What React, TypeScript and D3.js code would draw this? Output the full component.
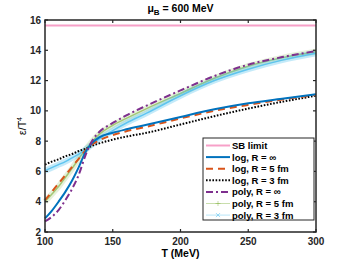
import React, { useRef, useEffect } from 'react';
import * as d3 from 'd3';

// temperatures (MeV)
const temps = [100, 105, 110, 115, 120, 125, 130, 135, 140, 150, 160, 175, 200, 225, 250, 275, 300];

const logInf = [2.9, 3.4, 4.0, 4.65, 5.4, 6.3, 7.3, 7.9, 8.25, 8.55, 8.78, 9.08, 9.6, 10.1, 10.5, 10.8, 11.1];
const log5 = [4.1, 4.65, 5.2, 5.75, 6.3, 6.85, 7.4, 7.8, 8.05, 8.4, 8.65, 8.95, 9.5, 10.0, 10.4, 10.75, 11.05];
const log3 = [6.45, 6.65, 6.8, 7.0, 7.15, 7.35, 7.5, 7.7, 7.85, 8.1, 8.3, 8.55, 9.1, 9.65, 10.15, 10.6, 11.0];
const polyInf = [2.7, 3.0, 3.45, 4.1, 4.85, 5.8, 7.1, 8.05, 8.6, 9.2, 9.7, 10.35, 11.35, 12.3, 13.05, 13.55, 13.95];
const poly5 = [4.0, 4.5, 5.0, 5.6, 6.2, 6.85, 7.45, 8.0, 8.45, 9.05, 9.5, 10.15, 11.15, 12.15, 12.95, 13.5, 13.9];
const poly3 = [6.05, 6.25, 6.45, 6.65, 6.9, 7.15, 7.45, 7.8, 8.15, 8.7, 9.2, 9.85, 11.0, 12.0, 12.75, 13.35, 13.8];
const sbLimit = 15.63;

const xTicks = [100, 150, 200, 250, 300];
const yTicks = [2, 4, 6, 8, 10, 12, 14, 16];

const legendLabels = ['SB limit', 'log, R = \u221e', 'log, R = 5 fm', 'log, R = 3 fm', 'poly, R = \u221e', 'poly, R = 5 fm', 'poly, R = 3 fm'];

const App = () => {
  const Svg = useRef<SVGSVGElement>(null);

  useEffect(() => {
    const width = 349;
    const height = 262;
    const m = { left: 45, right: 33, top: 20, bottom: 30 };
    const font = 'Liberation Sans, Arial, sans-serif';

    const svg = d3.select(Svg.current).attr('width', width).attr('height', height);
    svg.selectAll('*').remove();

    const x = d3.scaleLinear().domain([100, 300]).range([m.left, width - m.right]);
    const y = d3.scaleLinear().domain([2, 16]).range([height - m.bottom, m.top]);

    const styles = [
      { color: '#f7a0c8', width: 2, dash: null, opacity: 1 },
      { color: '#0072BD', width: 2, dash: null, opacity: 1 },
      { color: '#D95319', width: 2, dash: '7,5', opacity: 1 },
      { color: '#000000', width: 2, dash: '1.6,1.6', opacity: 1 },
      { color: '#7E2F8E', width: 2, dash: '7,3,2,3', opacity: 1 },
      { color: '#77AC30', width: 4, dash: null, opacity: 0.3 },
      { color: '#4DBEEE', width: 4, dash: null, opacity: 0.55 },
    ];

    const line = d3
      .line<[number, number]>()
      .x((d) => x(d[0]))
      .y((d) => y(d[1]))
      .curve(d3.curveMonotoneX);

    const series = [
      { data: poly5, s: styles[5] },
      { data: poly3, s: styles[6] },
      { data: log3, s: styles[3] },
      { data: log5, s: styles[2] },
      { data: logInf, s: styles[1] },
      { data: polyInf, s: styles[4] },
    ];

    const plot = svg.append('g');

    // SB limit
    plot
      .append('line')
      .attr('x1', x(100))
      .attr('x2', x(300))
      .attr('y1', y(sbLimit))
      .attr('y2', y(sbLimit))
      .attr('stroke', styles[0].color)
      .attr('stroke-width', 2);

    series.forEach(({ data, s }) => {
      const pts = temps.map((t, i) => [t, data[i]] as [number, number]);
      if (s.opacity < 1) {
        plot
          .append('path')
          .attr('d', line(pts))
          .attr('fill', 'none')
          .attr('stroke', s.color)
          .attr('stroke-opacity', s.opacity * 0.6)
          .attr('stroke-width', s.width + 2);
      }
      plot
        .append('path')
        .attr('d', line(pts))
        .attr('fill', 'none')
        .attr('stroke', s.color)
        .attr('stroke-opacity', s.opacity < 1 ? Math.min(1, s.opacity + 0.3) : 1)
        .attr('stroke-width', s.opacity < 1 ? 1.5 : s.width)
        .attr('stroke-dasharray', s.dash);
    });

    // axes box
    const axisColor = '#262626';
    const x0 = x(100);
    const x1 = x(300);
    const y0 = y(2);
    const y1 = y(16);
    svg
      .append('rect')
      .attr('x', x0)
      .attr('y', y1)
      .attr('width', x1 - x0)
      .attr('height', y0 - y1)
      .attr('fill', 'none')
      .attr('stroke', axisColor)
      .attr('stroke-width', 1.5);

    const ticks = svg.append('g').attr('stroke', axisColor).attr('stroke-width', 1.2);
    xTicks.forEach((t) => {
      ticks.append('line').attr('x1', x(t)).attr('x2', x(t)).attr('y1', y0).attr('y2', y0 - 3);
      ticks.append('line').attr('x1', x(t)).attr('x2', x(t)).attr('y1', y1).attr('y2', y1 + 3);
    });
    yTicks.forEach((t) => {
      ticks.append('line').attr('x1', x0).attr('x2', x0 + 3).attr('y1', y(t)).attr('y2', y(t));
      ticks.append('line').attr('x1', x1).attr('x2', x1 - 3).attr('y1', y(t)).attr('y2', y(t));
    });

    svg
      .append('g')
      .selectAll('text')
      .data(xTicks)
      .enter()
      .append('text')
      .attr('x', (d) => x(d))
      .attr('y', y0 + 13)
      .attr('text-anchor', 'middle')
      .attr('font-family', font)
      .attr('font-size', 10)
      .attr('font-weight', 'bold')
      .attr('fill', axisColor)
      .text((d) => d);

    svg
      .append('g')
      .selectAll('text')
      .data(yTicks)
      .enter()
      .append('text')
      .attr('x', x0 - 4)
      .attr('y', (d) => y(d) + 3.5)
      .attr('text-anchor', 'end')
      .attr('font-family', font)
      .attr('font-size', 10)
      .attr('font-weight', 'bold')
      .attr('fill', axisColor)
      .text((d) => d);

    // title
    const title = svg
      .append('text')
      .attr('x', (x0 + x1) / 2)
      .attr('y', 12)
      .attr('text-anchor', 'middle')
      .attr('font-family', font)
      .attr('font-size', 10.5)
      .attr('font-weight', 'bold')
      .attr('fill', '#000');
    title.append('tspan').text('\u03bc');
    title.append('tspan').attr('font-size', 8).attr('dy', 3).text('B');
    title.append('tspan').attr('dy', -3).text(' = 600 MeV');

    // x label
    svg
      .append('text')
      .attr('x', (x0 + x1) / 2)
      .attr('y', 257)
      .attr('text-anchor', 'middle')
      .attr('font-family', font)
      .attr('font-size', 10.5)
      .attr('font-weight', 'bold')
      .attr('fill', '#000')
      .text('T (MeV)');

    // y label
    const yl = svg
      .append('text')
      .attr('transform', `translate(26, ${(y0 + y1) / 2}) rotate(-90)`)
      .attr('text-anchor', 'middle')
      .attr('font-family', font)
      .attr('font-size', 10.5)
      .attr('fill', '#000');
    yl.append('tspan').text('\u03b5/T');
    yl.append('tspan').attr('font-size', 7).attr('dy', -4).text('4');

    // legend
    const lg = svg.append('g');
    const lx = 203;
    const ly = 138;
    const rowH = 11.6;
    lg.append('rect')
      .attr('x', lx)
      .attr('y', ly)
      .attr('width', 111)
      .attr('height', 82)
      .attr('fill', '#fff')
      .attr('stroke', axisColor)
      .attr('stroke-width', 1);

    legendLabels.forEach((label, i) => {
      const s = styles[i];
      const cy = ly + 7.5 + i * rowH;
      lg.append('line')
        .attr('x1', lx + 3)
        .attr('x2', lx + 27)
        .attr('y1', cy)
        .attr('y2', cy)
        .attr('stroke', s.color)
        .attr('stroke-opacity', s.opacity < 1 ? 0.4 : 1)
        .attr('stroke-width', s.opacity < 1 ? 1 : s.width)
        .attr('stroke-dasharray', s.dash);
      if (i === 5) {
        lg.append('path')
          .attr('d', `M${lx + 15 - 2.5},${cy}h5M${lx + 15},${cy - 2.5}v5`)
          .attr('stroke', s.color)
          .attr('stroke-opacity', 0.5)
          .attr('stroke-width', 0.8);
      }
      if (i === 6) {
        lg.append('path')
          .attr('d', `M${lx + 13},${cy - 2}l4,4M${lx + 13},${cy + 2}l4,-4`)
          .attr('stroke', s.color)
          .attr('stroke-opacity', 0.7)
          .attr('stroke-width', 0.8);
      }
      lg.append('text')
        .attr('x', lx + 29)
        .attr('y', cy + 3.5)
        .attr('font-family', font)
        .attr('font-size', 9.5)
        .attr('font-weight', 'bold')
        .attr('fill', '#000')
        .text(label);
    });
  }, []);

  return <svg ref={Svg} style={{ position: 'absolute', left: 0, top: 0 }} />;
};

export default App;
